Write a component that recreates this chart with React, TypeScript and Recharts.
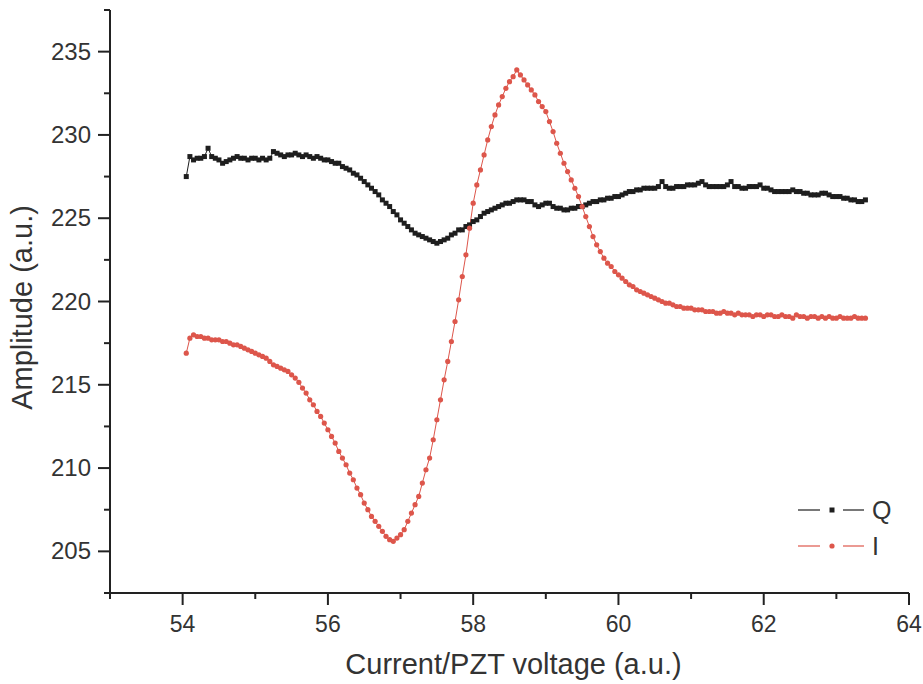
import React from 'react';
import { LineChart, Line, XAxis, YAxis, Legend } from 'recharts';

// PZT voltage sweep (a.u.)
const voltage = [
  54.05, 54.1, 54.15, 54.2, 54.25, 54.3, 54.35, 54.4, 54.45, 54.5,
  54.55, 54.6, 54.65, 54.7, 54.75, 54.8, 54.85, 54.9, 54.95, 55.0,
  55.05, 55.1, 55.15, 55.2, 55.25, 55.3, 55.35, 55.4, 55.45, 55.5,
  55.55, 55.6, 55.65, 55.7, 55.75, 55.8, 55.85, 55.9, 55.95, 56.0,
  56.05, 56.1, 56.15, 56.2, 56.25, 56.3, 56.35, 56.4, 56.45, 56.5,
  56.55, 56.6, 56.65, 56.7, 56.75, 56.8, 56.85, 56.9, 56.95, 57.0,
  57.05, 57.1, 57.15, 57.2, 57.25, 57.3, 57.35, 57.4, 57.45, 57.5,
  57.55, 57.6, 57.65, 57.7, 57.75, 57.8, 57.85, 57.9, 57.95, 58.0,
  58.05, 58.1, 58.15, 58.2, 58.25, 58.3, 58.35, 58.4, 58.45, 58.5,
  58.55, 58.6, 58.65, 58.7, 58.75, 58.8, 58.85, 58.9, 58.95, 59.0,
  59.05, 59.1, 59.15, 59.2, 59.25, 59.3, 59.35, 59.4, 59.45, 59.5,
  59.55, 59.6, 59.65, 59.7, 59.75, 59.8, 59.85, 59.9, 59.95, 60.0,
  60.05, 60.1, 60.15, 60.2, 60.25, 60.3, 60.35, 60.4, 60.45, 60.5,
  60.55, 60.6, 60.65, 60.7, 60.75, 60.8, 60.85, 60.9, 60.95, 61.0,
  61.05, 61.1, 61.15, 61.2, 61.25, 61.3, 61.35, 61.4, 61.45, 61.5,
  61.55, 61.6, 61.65, 61.7, 61.75, 61.8, 61.85, 61.9, 61.95, 62.0,
  62.05, 62.1, 62.15, 62.2, 62.25, 62.3, 62.35, 62.4, 62.45, 62.5,
  62.55, 62.6, 62.65, 62.7, 62.75, 62.8, 62.85, 62.9, 62.95, 63.0,
  63.05, 63.1, 63.15, 63.2, 63.25, 63.3, 63.35, 63.4,
];

const qAmp = [
  227.5, 228.7, 228.5, 228.6, 228.6, 228.7, 229.2, 228.7, 228.6, 228.5,
  228.3, 228.4, 228.5, 228.6, 228.7, 228.6, 228.6, 228.5, 228.6, 228.6,
  228.5, 228.6, 228.5, 228.6, 229.0, 228.9, 228.8, 228.7, 228.8, 228.8,
  228.9, 228.8, 228.7, 228.8, 228.7, 228.6, 228.7, 228.6, 228.5, 228.5,
  228.4, 228.3, 228.3, 228.1, 228.0, 227.9, 227.7, 227.6, 227.4, 227.2,
  227.0, 226.8, 226.6, 226.4, 226.1, 225.9, 225.7, 225.4, 225.2, 224.9,
  224.7, 224.5, 224.3, 224.1, 224.0, 223.9, 223.8, 223.7, 223.6, 223.5,
  223.6, 223.7, 223.8, 224.0, 224.1, 224.3, 224.3, 224.5, 224.6, 224.8,
  224.9, 225.1, 225.3, 225.4, 225.5, 225.6, 225.7, 225.8, 225.9, 225.9,
  226.0, 226.1, 226.1, 226.1, 226.0, 226.0, 225.8, 225.7, 225.8, 225.9,
  225.9, 225.7, 225.6, 225.6, 225.5, 225.5, 225.6, 225.6, 225.7, 225.7,
  225.8, 225.9, 226.0, 226.0, 226.1, 226.1, 226.2, 226.2, 226.3, 226.3,
  226.4, 226.5, 226.6, 226.6, 226.7, 226.7, 226.8, 226.8, 226.8, 226.8,
  226.9, 227.2, 226.9, 226.8, 226.8, 226.9, 226.9, 226.9, 227.0, 227.0,
  227.0, 227.1, 227.2, 227.0, 226.9, 226.9, 226.9, 226.9, 226.9, 227.0,
  227.2, 226.9, 226.9, 226.8, 226.8, 226.9, 226.9, 226.9, 227.0, 226.8,
  226.8, 226.7, 226.6, 226.6, 226.6, 226.6, 226.6, 226.7, 226.6, 226.6,
  226.5, 226.5, 226.4, 226.4, 226.4, 226.5, 226.5, 226.4, 226.3, 226.3,
  226.3, 226.2, 226.2, 226.1, 226.1, 226.0, 226.0, 226.1,
];

const iAmp = [
  216.9, 217.8, 218.0, 217.9, 217.9, 217.8, 217.8, 217.7, 217.7, 217.7,
  217.6, 217.6, 217.5, 217.4, 217.4, 217.3, 217.2, 217.1, 217.0, 216.9,
  216.8, 216.7, 216.6, 216.4, 216.2, 216.1, 216.0, 215.9, 215.8, 215.6,
  215.4, 215.15, 214.8, 214.5, 214.1, 213.8, 213.4, 213.1, 212.7, 212.3,
  211.9, 211.5, 211.0, 210.6, 210.2, 209.7, 209.3, 208.8, 208.4, 207.9,
  207.5, 207.1, 206.8, 206.5, 206.2, 205.9, 205.7, 205.6, 205.8, 206.0,
  206.3, 206.8, 207.3, 207.8, 208.3, 209.1, 209.9, 210.6, 211.7, 212.9,
  214.1, 215.3, 216.4, 217.6, 218.8, 220.1, 221.5, 222.8, 224.4, 225.9,
  227.0, 227.9, 228.8, 229.7, 230.5, 231.2, 231.8, 232.3, 232.8, 233.2,
  233.5, 233.9, 233.6, 233.3, 233.0, 232.7, 232.4, 232.0, 231.7, 231.4,
  230.8, 230.2, 229.5, 228.9, 228.3, 227.8, 227.3, 226.8, 226.3, 225.7,
  225.1, 224.5, 223.9, 223.4, 223.0, 222.6, 222.3, 222.1, 221.8, 221.6,
  221.4, 221.2, 221.0, 220.9, 220.7, 220.6, 220.5, 220.4, 220.3, 220.2,
  220.1, 220.0, 219.9, 219.9, 219.8, 219.7, 219.7, 219.6, 219.6, 219.6,
  219.5, 219.5, 219.5, 219.4, 219.4, 219.4, 219.3, 219.3, 219.4, 219.3,
  219.3, 219.2, 219.3, 219.2, 219.2, 219.2, 219.1, 219.2, 219.2, 219.1,
  219.2, 219.2, 219.1, 219.1, 219.2, 219.1, 219.1, 219.0, 219.2, 219.1,
  219.1, 219.0, 219.1, 219.1, 219.0, 219.1, 219.0, 219.1, 219.0, 219.0,
  219.1, 219.0, 219.0, 219.0, 219.1, 219.0, 219.0, 219.0,
];

const xTicks = [53, 54, 55, 56, 57, 58, 59, 60, 61, 62, 63, 64];
const xLabeled = [54, 56, 58, 60, 62, 64];
const yTicks = [202.5, 205, 207.5, 210, 212.5, 215, 217.5, 220, 222.5, 225, 227.5, 230, 232.5, 235, 237.5];
const yLabeled = [205, 210, 215, 220, 225, 230, 235];

const AXIS = '#222';
const TEXT = '#333';
const Q_COLOR = '#1e1e1e';
const I_COLOR = '#dd564b';
const FONT = '"Liberation Sans", Arial, sans-serif';

const data = voltage.map((v, k) => ({ v, Q: qAmp[k], I: iAmp[k] }));

const XTick = (props: any) => {
  const { x, y, payload } = props;
  const big = xLabeled.includes(payload.value);
  return (
    <g>
      <line x1={x} y1={y} x2={x} y2={y + (big ? 12 : 6)} stroke={AXIS} strokeWidth={2} />
      {big && (
        <text x={x} y={y + 39} textAnchor="middle" fontSize={23} fontFamily={FONT} fill={TEXT}>
          {payload.value}
        </text>
      )}
    </g>
  );
};

const YTick = (props: any) => {
  const { x, y, payload } = props;
  const big = yLabeled.includes(payload.value);
  return (
    <g>
      <line x1={x - (big ? 12 : 6)} y1={y} x2={x} y2={y} stroke={AXIS} strokeWidth={2} />
      {big && (
        <text x={x - 19} y={y + 8} textAnchor="end" fontSize={24} fontFamily={FONT} fill={TEXT}>
          {payload.value}
        </text>
      )}
    </g>
  );
};

const XTitle = (props: any) => {
  const { x, y, width } = props.viewBox;
  return (
    <text x={x + width / 2 + 4} y={y + 81} textAnchor="middle" fontSize={29} fontFamily={FONT} fill={TEXT}>
      Current/PZT voltage (a.u.)
    </text>
  );
};

const YTitle = (props: any) => {
  const { y, height } = props.viewBox;
  const cy = y + height / 2 + 6;
  return (
    <text x={32} y={cy} transform={`rotate(-90 32 ${cy})`} textAnchor="middle" fontSize={29} fontFamily={FONT} fill={TEXT}>
      Amplitude (a.u.)
    </text>
  );
};

const squareDot = (p: any) => (
  <rect key={`q-${p.index}`} x={p.cx - 2.5} y={p.cy - 2.5} width={5} height={5} fill={Q_COLOR} />
);

const roundDot = (p: any) => (
  <circle key={`i-${p.index}`} cx={p.cx} cy={p.cy} r={2.6} fill={I_COLOR} />
);

const legendRows = [
  { name: 'Q', color: Q_COLOR, square: true },
  { name: 'I', color: I_COLOR, square: false },
];

const LegendBox = () => (
  <svg width={110} height={72}>
    {legendRows.map((r, k) => {
      const cy = 20 + k * 36;
      return (
        <g key={r.name}>
          <line x1={3} y1={cy} x2={25} y2={cy} stroke={r.color} strokeWidth={1.2} />
          <line x1={48} y1={cy} x2={69} y2={cy} stroke={r.color} strokeWidth={1.2} />
          {r.square ? (
            <rect x={34.5} y={cy - 2.5} width={5} height={5} fill={r.color} />
          ) : (
            <circle cx={37} cy={cy} r={2.6} fill={r.color} />
          )}
          <text x={77} y={cy + 9} fontSize={25} fontFamily={FONT} fill={TEXT}>
            {r.name}
          </text>
        </g>
      );
    })}
  </svg>
);

export default function App() {
  return (
    <div style={{ position: 'absolute', left: 0, top: 0, background: '#fff' }}>
      <LineChart width={923} height={684} data={data} margin={{ top: 10, right: 14, left: 0, bottom: 0 }}>
        <XAxis
          type="number"
          dataKey="v"
          domain={[53, 64]}
          ticks={xTicks}
          interval={0}
          height={91}
          tickSize={0}
          tickMargin={0}
          tickLine={false}
          tick={<XTick />}
          axisLine={{ stroke: AXIS, strokeWidth: 2 }}
          label={<XTitle />}
        />
        <YAxis
          type="number"
          domain={[202.5, 237.5]}
          ticks={yTicks}
          interval={0}
          width={110}
          tickSize={0}
          tickMargin={0}
          tickLine={false}
          tick={<YTick />}
          axisLine={{ stroke: AXIS, strokeWidth: 2 }}
          allowDataOverflow
          label={<YTitle />}
        />
        <Legend
          layout="horizontal"
          align="center"
          verticalAlign="middle"
          content={<LegendBox />}
          wrapperStyle={{ position: 'absolute', left: 795, top: 490, width: 110, height: 72 }}
        />
        <Line
          dataKey="Q"
          stroke={Q_COLOR}
          strokeWidth={1}
          dot={squareDot}
          activeDot={false}
          isAnimationActive={false}
        />
        <Line
          dataKey="I"
          stroke={I_COLOR}
          strokeWidth={1}
          dot={roundDot}
          activeDot={false}
          isAnimationActive={false}
        />
      </LineChart>
    </div>
  );
}
